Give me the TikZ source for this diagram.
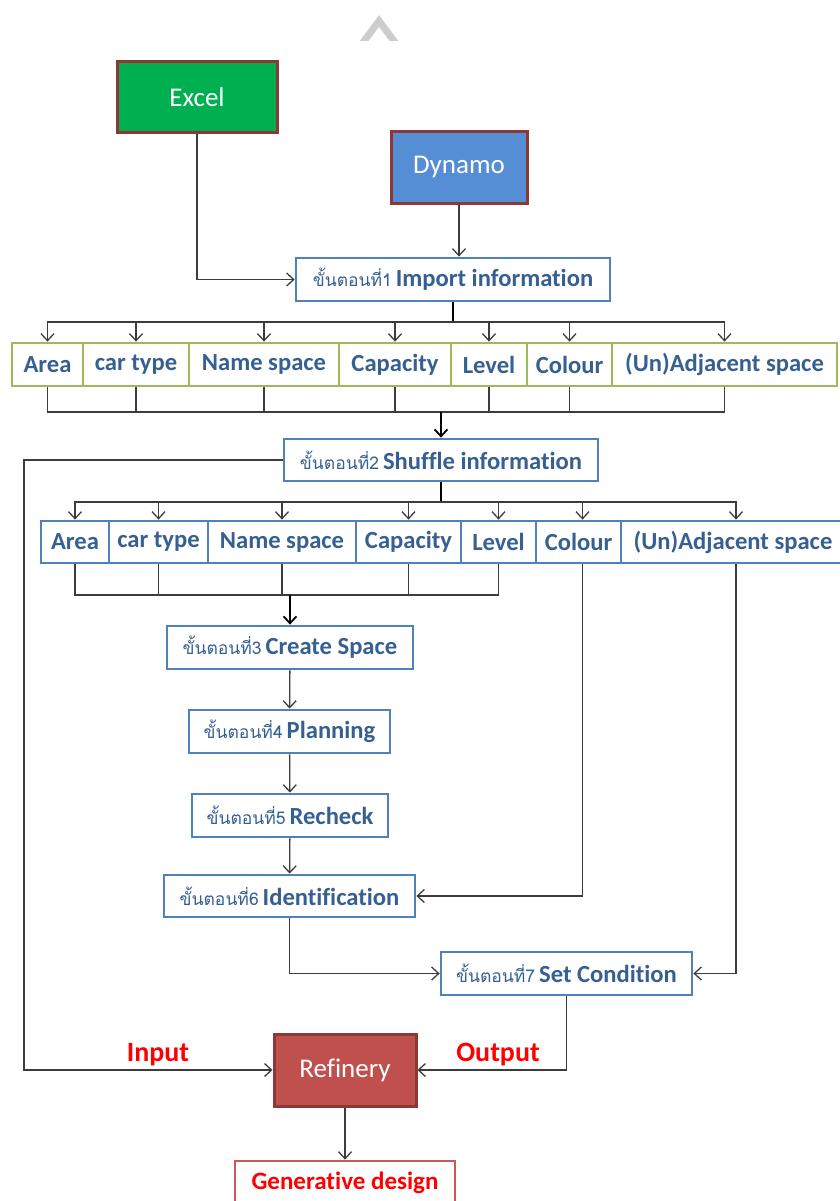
\documentclass[tikz,border=0pt]{standalone}
\usepackage{fontspec}
\setmainfont{Carlito}[Ligatures=NoCommon]
\newfontfamily\thaifont[Script=Thai]{Loma}
\usetikzlibrary{arrows.meta}

\definecolor{labelblue}{RGB}{54,96,146}
\definecolor{stepborder}{RGB}{79,129,189}
\definecolor{rowgreen}{RGB}{155,187,89}
\definecolor{excelgreen}{RGB}{0,176,80}
\definecolor{dynamoblue}{RGB}{85,142,213}
\definecolor{darkred}{RGB}{140,56,54}
\definecolor{refred}{RGB}{192,80,77}
\definecolor{genred}{RGB}{200,90,90}
\definecolor{linegray}{RGB}{60,60,60}
\definecolor{caretgray}{RGB}{205,205,205}

% Thai step prefix followed by the bold English step name
\newcommand\stagelabel[2]{{\thaifont\fontsize{17.5}{18}\selectfont #1}\hspace{4pt}{\bfseries #2}}

\tikzset{
  box/.style={draw, inner sep=0pt, align=center, line width=2.8pt},
  srcbox/.style={box, draw=darkred, line width=3pt, text=white,
                 font=\fontsize{27}{30}\selectfont},
  stagebox/.style={box, draw=stepborder, fill=white, text=labelblue,
                   font=\fontsize{24.6}{28}\selectfont},
  greenitem/.style={box, draw=rowgreen, fill=white, text=labelblue,
                    font=\bfseries\fontsize{24.6}{28}\selectfont},
  blueitem/.style={box, draw=stepborder, fill=white, text=labelblue,
                   font=\bfseries\fontsize{24.6}{28}\selectfont},
  conn/.style={draw=linegray, line width=1.3pt,
               -{Straight Barb[length=7pt,width=13pt,line width=1.3pt]}},
  plain/.style={draw=linegray, line width=1.3pt},
  trunk/.style={draw=black, line width=2.4pt},
  trunkarrow/.style={trunk, -{Straight Barb[length=7pt,width=13pt,line width=1.8pt]}},
  redtext/.style={text=red, font=\bfseries\fontsize{28}{30}\selectfont}
}

\begin{document}
\begin{tikzpicture}[x=1pt,y=-1pt]
\useasboundingbox (0,0) rectangle (839,1201);

% grey chevron at the top
\begin{scope}
  \clip (340,0) rectangle (420,41);
  \draw[caretgray, line width=7pt] (361,45) -- (379,21) -- (397,45);
\end{scope}

% sources
\node[srcbox, fill=excelgreen, minimum width=160pt, minimum height=71pt] (excel) at (197,97.5) {Excel};
\node[srcbox, fill=dynamoblue, minimum width=136pt, minimum height=71pt] (dynamo) at (459,167.5) {Dynamo};

% step 1
\node[stagebox, minimum width=314pt, minimum height=43pt] (s1) at (453,279.5) {\stagelabel{ขั้นตอนที่1}{Import information}};

% first row of data items
\node[greenitem, minimum width=71pt,  minimum height=43pt] (a1) at (47.5,364.5) {Area};
\node[greenitem, minimum width=106pt, minimum height=43pt] (b1) at (136,364.5) {car type};
\node[greenitem, minimum width=150pt, minimum height=43pt] (c1) at (264,364.5) {Name space};
\node[greenitem, minimum width=112pt, minimum height=43pt] (d1) at (395,364.5) {Capacity};
\node[greenitem, minimum width=76pt,  minimum height=43pt] (e1) at (489,364.5) {Level};
\node[greenitem, minimum width=85pt,  minimum height=43pt] (f1) at (569.5,364.5) {Colour};
\node[greenitem, minimum width=225pt, minimum height=43pt] (g1) at (724.5,364.5) {(Un)Adjacent space};

% step 2
\node[stagebox, minimum width=314pt, minimum height=42pt] (s2) at (441,460) {\stagelabel{ขั้นตอนที่2}{Shuffle information}};

% second row of data items
\node[blueitem, minimum width=68pt,  minimum height=42pt] (a2) at (75,542) {Area};
\node[blueitem, minimum width=99pt,  minimum height=42pt] (b2) at (158.5,542) {car type};
\node[blueitem, minimum width=148pt, minimum height=42pt] (c2) at (282,542) {Name space};
\node[blueitem, minimum width=105pt, minimum height=42pt] (d2) at (408.5,542) {Capacity};
\node[blueitem, minimum width=75pt,  minimum height=42pt] (e2) at (498.5,542) {Level};
\node[blueitem, minimum width=85pt,  minimum height=42pt] (f2) at (578.5,542) {Colour};
\node[blueitem, minimum width=224pt, minimum height=42pt] (g2) at (733,542) {(Un)Adjacent space};

% steps 3 to 7
\node[stagebox, minimum width=246pt, minimum height=43pt] (s3) at (290,647.5) {\stagelabel{ขั้นตอนที่3}{Create Space}};
\node[stagebox, minimum width=201pt, minimum height=43pt] (s4) at (289.5,731.5) {\stagelabel{ขั้นตอนที่4}{Planning}};
\node[stagebox, minimum width=196pt, minimum height=43pt] (s5) at (290,815.5) {\stagelabel{ขั้นตอนที่5}{Recheck}};
\node[stagebox, minimum width=251pt, minimum height=42pt] (s6) at (289.5,896) {\stagelabel{ขั้นตอนที่6}{Identification}};
\node[stagebox, minimum width=251pt, minimum height=43pt] (s7) at (566.5,973.5) {\stagelabel{ขั้นตอนที่7}{Set Condition}};

% refinery and result
\node[srcbox, fill=refred, minimum width=142pt, minimum height=72pt] (ref) at (345,1070) {Refinery};
\node[box, draw=genred, fill=white, minimum width=220pt, minimum height=44pt, text=red,
      font=\bfseries\fontsize{25}{28}\selectfont] (gen) at (345,1183) {Generative design};

\node[redtext] (inlabel) at (158,1055) {Input};
\node[redtext] (outlabel) at (498,1055) {Output};

% junction points of the buses
\coordinate (bus1) at (453,322);
\coordinate (bus1b) at (441,412);
\coordinate (bus2) at (441,502);
\coordinate (bus2b) at (290,595);
\coordinate (leftrail) at (24,460);

% sources into step 1
\draw[conn] (excel.south) |- (s1.west);
\draw[conn] (dynamo.south) -- (dynamo.south |- s1.north);

% step 1 fans out to the first row
\draw[trunk] (s1.south) -- (bus1);
\foreach \n in {a1,b1,c1,d1,e1,f1,g1} \draw[conn] (bus1) -| (\n.north);
% first row gathers into step 2
\foreach \n in {a1,b1,c1,d1,e1,f1,g1} \draw[plain] (\n.south) |- (bus1b);
\draw[trunkarrow] (bus1b) -- (s2.north);

% step 2 fans out to the second row
\draw[trunk] (s2.south) -- (bus2);
\foreach \n in {a2,b2,c2,d2,e2} \draw[conn] (bus2) -| (\n.north);
\draw[conn] (bus2) -| ([xshift=4pt]f2.north);
\draw[conn] (bus2) -| ([xshift=3pt]g2.north);
% five items gather into step 3
\foreach \n in {a2,b2,c2,d2,e2} \draw[plain] (\n.south) |- (bus2b);
\draw[trunkarrow] (bus2b) -- (s3.north);

% main chain
\draw[conn] (s3) -- (s4);
\draw[conn] (s4) -- (s5);
\draw[conn] (s5) -- (s6);
\draw[conn] ([xshift=4pt]f2.south) |- (s6.east);
\draw[conn] ([xshift=3pt]g2.south) |- (s7.east);
\draw[conn] (s6.south) |- (s7.west);

% into and out of the refinery
\draw[conn] (s2.west) -- (leftrail) |- (ref.west);
\draw[conn] (s7.south) |- (ref.east);
\draw[conn] (ref.south) -- (gen.north);
\end{tikzpicture}
\end{document}
